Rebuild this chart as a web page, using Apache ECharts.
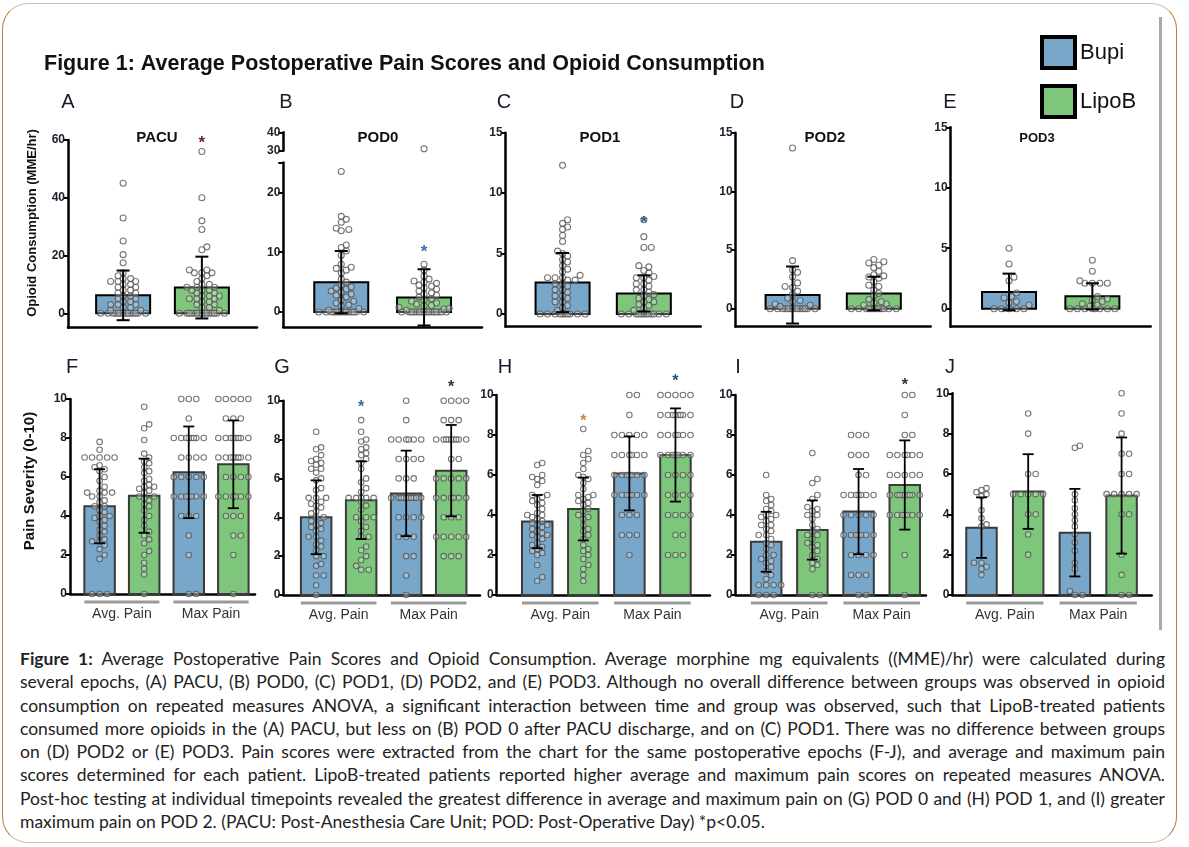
<!DOCTYPE html>
<html><head><meta charset="utf-8">
<script src="https://cdn.jsdelivr.net/npm/echarts@6/dist/echarts.min.js"></script>
<style>
html,body{margin:0;padding:0;background:#fff;}
#frame{position:absolute;left:2px;top:3px;width:1175px;height:840px;border:1.5px solid #c27b34;border-top-color:#d8bca6;border-bottom-color:#d8bca6;border-radius:26px;box-sizing:border-box;}
#edge{position:absolute;left:1159px;top:17px;width:3px;height:613px;background:#aaa;}
#chart{position:absolute;left:0;top:0;width:1189px;height:640px;}
#caption{position:absolute;left:20px;top:647px;width:1145px;font-family:Lato,"Open Sans",sans-serif;font-size:17.5px;line-height:23.3px;color:#222;}
.ln{white-space:nowrap;height:23.3px;}
.ln span{display:inline-block;transform-origin:0 50%;}
</style></head>
<body>
<div id="frame"></div>
<div id="edge"></div>
<div id="chart"></div>
<div id="caption"></div>
<script>
// ---------------- DATA ----------------
const epochs = ['PACU', 'POD0', 'POD1', 'POD2', 'POD3'];
const groups = ['Bupi', 'LipoB'];
const painCats = ['Avg. Pain', 'Max Pain'];
const opioidTicks = [[0, 20, 40, 60], [0, 10, 20], [0, 5, 10, 15], [0, 5, 10, 15], [0, 5, 10, 15]];
const pod0UpperTicks = [30, 40];
const painTicks = [0, 2, 4, 6, 8, 10];

const opioidMeanBupi = [6.2, 5.0, 2.6, 1.17, 1.38];
const opioidSdBupi = [8.6, 5.2, 2.45, 2.43, 1.52];
const opioidMeanLipoB = [8.9, 2.45, 1.7, 1.3, 1.02];
const opioidSdLipoB = [10.7, 4.7, 1.5, 1.43, 1.08];

const pacuBupiPts = [45,33,25,20.3,17.5,14,13,12,12,11,11,11,10,10,9,9,8,8,7,7,6,6,5,5,4,4,3,3,3,2,2,1,1,0,0,0,0,0,0,0,0,0,0,0,0,0,0];
const pacuLipoBPts = [56,40,32,29,23,22,15,15,14,14,14,13,12,11,10,10,9,9,9,8,8,8,7,7,6,6,6,5,5,5,4,4,3,3,2,2,1,0,0,0,0,0,0,0,0,0,0,0,0,0,0,0];
const pod0BupiPts = [23.5,16,15.5,15,14,13.8,13.6,11.2,10.8,10.2,9.5,8,7.5,7.3,7,6.5,5.5,5,4.5,4.2,4,3.8,3.5,3.3,3,2.8,2.5,2,1.8,1.5,1.2,1,0.6,0.3,0,0,0,0,0,0,0,0,0,0,0,0,0,0];
const pod0LipoBPts = [8,7,6,5.5,5.2,5,4.8,4.5,4.3,4,3.8,3.5,3.2,3,2.8,2.5,2.2,2,1.8,1.5,1.3,1.1,1,0.8,0.6,0.5,0.3,0,0,0,0,0,0,0,0,0,0,0,0,0,0,0,0];
const pod0UpperLipoBPts = [31];
const pod1BupiPts = [12.3,7.8,7.5,7.2,7,6.5,6,5.2,5,4.8,4.5,4.3,4,3.7,3.5,3.2,3,3,3,2.8,2.8,2.5,2.5,2.3,2,2,1.8,1.5,1.5,1.3,1,1,0.7,0.5,0.3,0,0,0,0,0,0,0,0,0,0];
const pod1LipoBPts = [7.8,6.4,5.5,5.5,4,3.9,3.6,3.4,3.1,3,3,2.8,2.5,2.5,2.3,2,2,1.8,1.6,1.5,1.3,1.2,1,1,0.8,0.7,0.5,0.3,0,0,0,0,0,0,0,0,0,0,0,0];
const pod2BupiPts = [13.7,4.1,3.3,3.1,2.7,2.2,1.9,1.8,1.5,1.2,0.9,0.7,0.6,0.4,0.3,0.2,0,0,0,0,0,0,0,0,0,0,0,0,0,0];
const pod2LipoBPts = [4.2,4.0,3.9,3.7,3.5,3.2,2.9,2.8,2.7,2.6,2.3,2,1.9,1.6,1.3,1.1,0.8,0.6,0.5,0.4,0.3,0,0,0,0,0,0,0,0,0,0,0,0];
const pod3BupiPts = [5,3.7,2.6,2.3,1.3,1.0,0.9,0.6,0.5,0.3,0,0,0,0,0];
const pod3LipoBPts = [4,3.1,2.3,2.1,2.1,2.1,2.1,1.0,0.8,0.7,0.6,0.4,0.3,0.2,0,0,0,0,0,0,0,0];
const opioidStarLipoB = [60.5, 10.8, 7.9, null, null];

const painAvgMeanBupi = [4.5, 4.0, 3.67, 2.66, 3.34];
const painAvgSdBupi = [1.9, 1.9, 1.33, 1.5, 1.5];
const painAvgMeanLipoB = [5.04, 4.88, 4.3, 3.25, 5.13];
const painAvgSdLipoB = [1.9, 2.0, 1.57, 1.48, 1.85];
const painMaxMeanBupi = [6.24, 5.23, 6.08, 4.17, 3.09];
const painMaxSdBupi = [2.35, 2.2, 1.85, 2.13, 2.17];
const painMaxMeanLipoB = [6.65, 6.4, 7.0, 5.5, 4.93];
const painMaxSdLipoB = [2.25, 2.35, 2.33, 2.23, 2.88];

const painAvgBupiPts = [
  [7.8,7.4,7,7,7,7,7,6.6,6.5,6.4,6.3,6,5.8,5.5,5.3,5.2,5.2,5.2,5,5,4.8,4.7,4.5,4.5,4.3,4.2,4,4,3.9,3.8,3.7,3.5,3.3,3.2,3,2.8,2.7,2.7,2.5,2.3,2,1.8,0,0,0],
  [8.4,7.6,7.5,7.2,7,6.9,6.8,6.7,6.5,6.5,6.3,6,5.9,5.5,5.4,5,5,5,4.8,4.7,4.6,4.5,4.3,4.2,4,4,3.8,3.7,3.6,3.5,3.4,3.3,3,3,2.8,2.6,2.5,2.3,2,2,1.6,1.5,1,1,0.5,0],
  [6.6,6.5,6,5.9,5.8,5.7,5.5,5,5,4.9,4.8,4.7,4.6,4.5,4.3,4.1,4,4,3.9,3.8,3.7,3.6,3.5,3.5,3.4,3.3,3.2,3.1,3,3,2.9,2.8,2.6,2.5,2.4,2.3,2.2,2.1,2,1.5,0.9,0.7],
  [6,5,4.8,4.7,4.5,4.3,4.2,4,4,3.9,3.8,3.7,3.5,3.5,3.3,3.2,3,3,2.8,2.6,2.5,2.3,2,2,1.8,1.7,1.6,1.4,1.2,1,0.8,0.5,0.5,0.5,0.5,0,0,0],
  [5.3,5.2,5.1,5,4.9,4.2,3.8,3.5,3.4,1.6,1.6,1.4,1.3,1.0]
];
const painAvgLipoBPts = [
  [9.6,8.7,8.5,7.9,7.2,7,6.8,6.7,6.5,6.3,6.2,5.9,5.8,5.6,5.5,5.5,5.4,5.3,5.2,5,5,4.9,4.8,4.6,4.5,4.3,4,3.8,3.5,3.2,3,2.8,2.6,2.2,2,1.6,1.3,1,0],
  [9,8.4,8,7.9,7.6,7.5,7.3,7.2,7,6.8,6.5,6,5.8,5.5,5.3,5,5,5,5,5,4.8,4.6,4.4,4,4,4,3.8,3.5,3.3,3,3,2.5,2.3,2,1.8,1.5,1.3,1.3],
  [8.3,7.2,7,6.8,6.6,6.3,6,5.9,5.8,5.6,5.3,5,5,4.9,4.8,4.7,4.6,4.5,4.3,4.2,4,3.9,3.8,3.5,3.3,3.2,3,2.8,2.5,2.3,2.2,2,1.8,1.5,1.3,1,0.7],
  [7.1,5.8,5.6,5,4.8,4.4,4.3,4.2,4,4,3.8,3.5,3.3,3.2,3,3,2.8,2.6,2.5,2.4,2.2,2,1.8,1.6,1.5,1.3,0,0],
  [9,8,6,6,5,5,5,5,5,4,4,3,2]
];
const painMaxBupiPts = [
  [10,10,10,9,8,8,8,8,8,8,8,8,7,7,7,7,6,6,6,6,6,5,5,5,5,5,5,5,4,4,4,3,2,0,0],
  [10,9,8,8,8,8,8,8,7,7,7,7,6,6,6,5,5,5,5,5,5,5,5,5,5,4,4,4,4,3,3,3,2,2,1,0],
  [10,10,9,8,8,8,8,8,7,7,7,7,7,7,6,6,6,6,6,6,6,5,5,5,5,5,5,5,4,4,4,3,3,3,2],
  [8,8,8,7,7,7,6,6,5,5,5,5,5,5,5,4,4,4,4,4,3,3,3,3,3,3,3,2,2,2,2,1,1,1,0,0],
  [7.4,7.3,5,4.7,4.3,4,3.7,3.4,3,2.6,2.2,1.6,1.3,0.2,0,0]
];
const painMaxLipoBPts = [
  [10,10,10,10,10,9,9,9,8,8,8,8,8,8,8,8,7,7,7,7,7,7,7,7,6,6,6,6,5,5,5,5,5,5,4,4,4,3,3,2,0],
  [10,10,10,10,9,9,9,8,8,8,8,8,8,8,8,8,7,7,6,6,6,6,6,5,5,5,5,5,5,4,4,4,3,3,3,3,3,2,2,2],
  [10,10,10,10,10,9,9,9,9,9,9,9,9,8,8,8,8,8,8,7,7,7,7,7,7,7,6,6,6,6,5,5,5,5,4,4,4,4,3,3,2,2,2],
  [10,10,9,8,8,7,7,7,7,7,7,6,6,6,6,6,5,5,5,5,5,5,5,5,5,4,4,4,4,4,4,4,2,0],
  [10,9,8,7,7,6,6,5,5,5,5,5,4,4,2,1,0,0]
];
const painAvgStarLipoB = [null, 9.9, 8.9, null, null];
const painMaxStarLipoB = [null, 10.9, 10.9, 10.7, null];

const captionLines = [
  '<b>Figure 1:</b> Average Postoperative Pain Scores and Opioid Consumption. Average morphine mg equivalents ((MME)/hr) were calculated during',
  'several epochs, (A) PACU, (B) POD0, (C) POD1, (D) POD2, and (E) POD3. Although no overall difference between groups was observed in opioid',
  'consumption on repeated measures ANOVA, a significant interaction between time and group was observed, such that LipoB-treated patients',
  'consumed more opioids in the (A) PACU, but less on (B) POD 0 after PACU discharge, and on (C) POD1. There was no difference between groups',
  'on (D) POD2 or (E) POD3. Pain scores were extracted from the chart for the same postoperative epochs (F-J), and average and maximum pain',
  'scores determined for each patient. LipoB-treated patients reported higher average and maximum pain scores on repeated measures ANOVA.',
  'Post-hoc testing at individual timepoints revealed the greatest difference in average and maximum pain on (G) POD 0 and (H) POD 1, and (I) greater',
  'maximum pain on POD 2. (PACU: Post-Anesthesia Care Unit; POD: Post-Operative Day) *p&lt;0.05.'
];

// ---------------- LAYOUT / STYLE ----------------
const BLUE = '#79a7ca', GREEN = '#7ec67b';
const FONT = '"Liberation Sans", Arial, sans-serif';
const opioidPts = [[pacuBupiPts, pacuLipoBPts], [pod0BupiPts, pod0LipoBPts], [pod1BupiPts, pod1LipoBPts], [pod2BupiPts, pod2LipoBPts], [pod3BupiPts, pod3LipoBPts]];
const topLayout = [
  {left: 68, right: 257, top: 140, bottom: 327.7, min: -5, max: 60, letter: 'A', lx: 68, tx: 157, tfs: 15},
  {left: 283.3, right: 482, top: 162.5, bottom: 327, min: -2.5, max: 25, letter: 'B', lx: 286, tx: 378, tfs: 15},
  {left: 505.7, right: 700.7, top: 132.7, bottom: 326.7, min: -1.05, max: 15, letter: 'C', lx: 504, tx: 600, tfs: 15},
  {left: 735.7, right: 930.7, top: 132.7, bottom: 326.7, min: -1.53, max: 15, letter: 'D', lx: 737, tx: 825, tfs: 15},
  {left: 950.7, right: 1150.7, top: 127.3, bottom: 326.7, min: -1.49, max: 15, letter: 'E', lx: 950, tx: 1037, tfs: 13}
];
const pod0Upper = {left: 283.3, right: 482, top: 132.3, bottom: 150.7, min: 30, max: 40};
const botLayout = [
  {left: 70, right: 255, top: 399, bottom: 594, xmin: -0.664, xmax: 3.486, letter: 'F', lx: 72},
  {left: 283.3, right: 480, top: 400.7, bottom: 595, xmin: -0.73, xmax: 3.64, letter: 'G', lx: 282},
  {left: 496.7, right: 710, top: 395, bottom: 595, xmin: -0.88, xmax: 3.75, letter: 'H', lx: 505},
  {left: 735.7, right: 926, top: 395, bottom: 595, xmin: -0.66, xmax: 3.46, letter: 'I', lx: 738},
  {left: 952.3, right: 1151.7, top: 393.3, bottom: 595, xmin: -0.625, xmax: 3.645, letter: 'J', lx: 950}
];
const TOP_XMIN = -0.7, TOP_XMAX = 1.7;
const TOP_BAR_W = 54, BOT_BAR_W = 30.5;
const topStarColors = ['#7a2230', '#3b6ea8', '#2b5c96', '#333', '#333'];
const botAvgStarColors = ['#333', '#3b6ea8', '#c98a3a', '#333', '#333'];
const botMaxStarColors = ['#333', '#333', '#2b4c86', '#333', '#333'];

// ---------------- HELPERS ----------------
function swarm(values, cx, pxX, pxY, halfW, minD) {
  const placed = [], out = [];
  const order = values.map((v, i) => i).sort((a, b) => values[a] - values[b]);
  const step = 2.5, cands = [0];
  for (let k = 1; k * step <= halfW; k++) cands.push(k * step, -k * step);
  for (const i of order) {
    const yp = values[i] * pxY;
    let best = 0, bestD = -1;
    for (const c of cands) {
      let d = Infinity;
      for (const p of placed) { const dd = Math.hypot(p[0] - c, p[1] - yp); if (dd < d) d = dd; }
      if (d >= minD) { best = c; bestD = d; break; }
      if (d > bestD) { bestD = d; best = c; }
    }
    placed.push([best, yp]);
    out.push([cx + best / pxX, values[i]]);
  }
  return out;
}
function yAxisCfg(gi, min, max, labels, ticks) {
  return {
    type: 'value', gridIndex: gi, min: min, max: max, splitLine: {show: false},
    axisLine: {show: true, onZero: false, lineStyle: {color: '#000', width: 2.5}},
    axisTick: {show: true, length: 5, customValues: ticks || labels, lineStyle: {color: '#000', width: 2}},
    axisLabel: {customValues: labels, fontSize: 12, fontWeight: 'bold', color: '#1d1d2b', margin: 3, fontFamily: FONT}
  };
}
function xAxisCfg(gi, min, max, show, labelVals, labelFmt) {
  return {
    type: 'value', gridIndex: gi, min: min, max: max, show: show, position: 'bottom', splitLine: {show: false},
    axisLine: {show: true, onZero: false, lineStyle: {color: '#000', width: 2.5}},
    axisTick: {show: false},
    axisLabel: labelVals ? {customValues: labelVals, formatter: labelFmt, fontSize: 14, color: '#333', margin: 13, fontFamily: FONT} : {show: false}
  };
}
function barSeries(name, gi, data, color, barW, stroke, lw) {
  return {
    type: 'custom', name: name, xAxisIndex: gi, yAxisIndex: gi, data: data, z: 2, clip: false,
    renderItem: (p, api) => {
      const x = api.value(0), m = api.value(1);
      const a = api.coord([x, 0]), b = api.coord([x, m]);
      return {type: 'rect', shape: {x: a[0] - barW / 2, y: b[1], width: barW, height: a[1] - b[1]},
        style: {fill: color, stroke: stroke, lineWidth: lw}};
    }
  };
}
function errSeries(gi, data, capW, lw) {
  return {
    type: 'custom', name: 'err', xAxisIndex: gi, yAxisIndex: gi, data: data, z: 5, clip: false,
    renderItem: (p, api) => {
      const x = api.value(0), m = api.value(1), s = api.value(2);
      const hi = api.coord([x, m + s]), lo = api.coord([x, m - s]);
      const st = {stroke: '#000', lineWidth: lw};
      return {type: 'group', children: [
        {type: 'line', shape: {x1: hi[0], y1: hi[1], x2: lo[0], y2: lo[1]}, style: st},
        {type: 'line', shape: {x1: hi[0] - capW / 2, y1: hi[1], x2: hi[0] + capW / 2, y2: hi[1]}, style: st},
        {type: 'line', shape: {x1: lo[0] - capW / 2, y1: lo[1], x2: lo[0] + capW / 2, y2: lo[1]}, style: st}
      ]};
    }
  };
}
function ptsSeries(gi, data, size) {
  return {
    type: 'scatter', name: 'pts', xAxisIndex: gi, yAxisIndex: gi, data: data, z: 4, clip: false,
    symbol: 'circle', symbolSize: size, silent: true,
    itemStyle: {color: 'rgba(255,255,255,0.35)', borderColor: '#555', borderWidth: 1.1}
  };
}
function starSeries(gi, data, color, fs) {
  return {
    type: 'custom', name: 'star', xAxisIndex: gi, yAxisIndex: gi, data: data, z: 6, clip: false,
    renderItem: (p, api) => {
      const c = api.coord([api.value(0), api.value(1)]);
      return {type: 'text', x: c[0], y: c[1] + fs * 0.28,
        style: {text: '*', fontSize: fs, fontWeight: 'bold', fontFamily: FONT, fill: color, align: 'center', verticalAlign: 'middle'}};
    }
  };
}
function underlineSeries(gi, data, barW) {
  return {
    type: 'custom', name: 'ul', xAxisIndex: gi, yAxisIndex: gi, data: data, z: 3, clip: false,
    renderItem: (p, api) => {
      const a = api.coord([api.value(0), 0]), b = api.coord([api.value(1), 0]);
      return {type: 'line', shape: {x1: a[0] - barW / 2, y1: a[1] + 8, x2: b[0] + barW / 2, y2: b[1] + 8},
        style: {stroke: '#999', lineWidth: 3}};
    }
  };
}

// ---------------- BUILD ----------------
const grids = [], xAxes = [], yAxes = [], series = [], graphics = [];
function addGrid(L) {
  grids.push({left: L.left, top: L.top, width: L.right - L.left, height: L.bottom - L.top, containLabel: false, outerBoundsMode: 'none'});
  return grids.length - 1;
}

topLayout.forEach((L, i) => {
  const gi = addGrid(L);
  const extra = i === 1 ? opioidTicks[i].concat([25]) : null;
  yAxes.push(yAxisCfg(gi, L.min, L.max, opioidTicks[i], extra));
  xAxes.push(xAxisCfg(gi, TOP_XMIN, TOP_XMAX, true));
  const pxX = (L.right - L.left) / (TOP_XMAX - TOP_XMIN), pxY = (L.bottom - L.top) / (L.max - L.min);
  series.push(barSeries('Bupi', gi, [[0, opioidMeanBupi[i]]], BLUE, TOP_BAR_W, '#000', 2));
  series.push(barSeries('LipoB', gi, [[1, opioidMeanLipoB[i]]], GREEN, TOP_BAR_W, '#000', 2));
  series.push(ptsSeries(gi, swarm(opioidPts[i][0], 0, pxX, pxY, TOP_BAR_W / 2 - 2, 5.5), 6));
  series.push(ptsSeries(gi, swarm(opioidPts[i][1], 1, pxX, pxY, TOP_BAR_W / 2 - 2, 5.5), 6));
  series.push(errSeries(gi, [[0, opioidMeanBupi[i], opioidSdBupi[i]], [1, opioidMeanLipoB[i], opioidSdLipoB[i]]], 13, 2));
  if (opioidStarLipoB[i] != null) series.push(starSeries(gi, [[1, opioidStarLipoB[i]]], topStarColors[i], 17));
  graphics.push({type: 'text', x: L.lx, y: 102, style: {text: L.letter, fontSize: 20, fontFamily: FONT, fill: '#1a1a2a', align: 'center', verticalAlign: 'middle'}});
  graphics.push({type: 'text', x: L.tx, y: 138, style: {text: epochs[i], fontSize: L.tfs, fontWeight: 'bold', fontFamily: FONT, fill: '#111', align: 'center', verticalAlign: 'middle'}});
  if (i === 1) {
    const gu = addGrid(pod0Upper);
    yAxes.push(yAxisCfg(gu, pod0Upper.min, pod0Upper.max, pod0UpperTicks));
    xAxes.push(xAxisCfg(gu, TOP_XMIN, TOP_XMAX, false));
    const pxYu = (pod0Upper.bottom - pod0Upper.top) / (pod0Upper.max - pod0Upper.min);
    series.push(ptsSeries(gu, swarm(pod0UpperLipoBPts, 1, pxX, pxYu, 10, 5.5), 6));
  }
});

botLayout.forEach((L, i) => {
  const gi = addGrid(L);
  yAxes.push(yAxisCfg(gi, 0, 10, painTicks));
  xAxes.push(xAxisCfg(gi, L.xmin, L.xmax, true, [0.5, 2.5], v => (v < 1.5 ? painCats[0] : painCats[1])));
  const pxX = (L.right - L.left) / (L.xmax - L.xmin), pxY = (L.bottom - L.top) / 10;
  series.push(barSeries('Bupi', gi, [[0, painAvgMeanBupi[i]], [2, painMaxMeanBupi[i]]], BLUE, BOT_BAR_W, '#3a3a3a', 2));
  series.push(barSeries('LipoB', gi, [[1, painAvgMeanLipoB[i]], [3, painMaxMeanLipoB[i]]], GREEN, BOT_BAR_W, '#3a3a3a', 2));
  const hw = BOT_BAR_W / 2 + 1;
  series.push(ptsSeries(gi, swarm(painAvgBupiPts[i], 0, pxX, pxY, hw, 5.2), 5.5));
  series.push(ptsSeries(gi, swarm(painAvgLipoBPts[i], 1, pxX, pxY, hw, 5.2), 5.5));
  series.push(ptsSeries(gi, swarm(painMaxBupiPts[i], 2, pxX, pxY, hw, 5.2), 5.5));
  series.push(ptsSeries(gi, swarm(painMaxLipoBPts[i], 3, pxX, pxY, hw, 5.2), 5.5));
  series.push(errSeries(gi, [
    [0, painAvgMeanBupi[i], painAvgSdBupi[i]], [1, painAvgMeanLipoB[i], painAvgSdLipoB[i]],
    [2, painMaxMeanBupi[i], painMaxSdBupi[i]], [3, painMaxMeanLipoB[i], painMaxSdLipoB[i]]], 11, 1.8));
  series.push(underlineSeries(gi, [[0, 1], [2, 3]], BOT_BAR_W));
  if (painAvgStarLipoB[i] != null) series.push(starSeries(gi, [[1, painAvgStarLipoB[i]]], botAvgStarColors[i], 16));
  if (painMaxStarLipoB[i] != null) series.push(starSeries(gi, [[3, painMaxStarLipoB[i]]], botMaxStarColors[i], 16));
  graphics.push({type: 'text', x: L.lx, y: 367, style: {text: L.letter, fontSize: 20, fontFamily: FONT, fill: '#1a1a2a', align: 'center', verticalAlign: 'middle'}});
});

graphics.push({type: 'text', x: 44, y: 64, style: {text: 'Figure 1: Average Postoperative Pain Scores and Opioid Consumption', fontSize: 21.5, fontWeight: 'bold', fontFamily: FONT, fill: '#111', verticalAlign: 'middle'}});
graphics.push({type: 'text', x: 32, y: 223, rotation: Math.PI / 2, style: {text: 'Opioid Consumption (MME/hr)', fontSize: 13, fontWeight: 'bold', fontFamily: FONT, fill: '#111', align: 'center', verticalAlign: 'middle'}});
graphics.push({type: 'text', x: 30, y: 481, rotation: Math.PI / 2, style: {text: 'Pain Severity (0-10)', fontSize: 15, fontWeight: 'bold', fontFamily: FONT, fill: '#111', align: 'center', verticalAlign: 'middle'}});

const chart = echarts.init(document.getElementById('chart'));
chart.setOption({
  animation: false,
  backgroundColor: 'transparent',
  grid: grids, xAxis: xAxes, yAxis: yAxes, series: series, graphic: graphics,
  legend: {
    orient: 'vertical', left: 1040, top: 35, padding: 0, itemWidth: 33, itemHeight: 31, itemGap: 14, selectedMode: false,
    textStyle: {fontSize: 22, color: '#111', fontFamily: FONT},
    data: groups.map((g, k) => ({name: g, icon: 'rect', itemStyle: {color: k ? GREEN : BLUE, borderColor: '#000', borderWidth: 4}}))
  }
});

// ---------------- CAPTION ----------------
const CAP_W = 1145;
const cap = document.getElementById('caption');
captionLines.forEach(t => { const d = document.createElement('div'); d.className = 'ln'; d.innerHTML = '<span>' + t + '</span>'; cap.appendChild(d); });
function fitCaption() {
  const spans = [...cap.querySelectorAll('span')];
  spans.forEach((s, i) => {
    s.style.wordSpacing = '0px'; s.style.transform = 'none';
    const w = s.getBoundingClientRect().width;
    const n = (s.textContent.match(/ /g) || []).length;
    if (w > CAP_W) {
      s.style.transform = 'scaleX(' + (CAP_W / w) + ')';
    } else if (i < spans.length - 1) {
      s.style.wordSpacing = ((CAP_W - w) / n) + 'px';
    }
  });
}
fitCaption();
if (document.fonts && document.fonts.ready) document.fonts.ready.then(fitCaption);
</script>
</body></html>
